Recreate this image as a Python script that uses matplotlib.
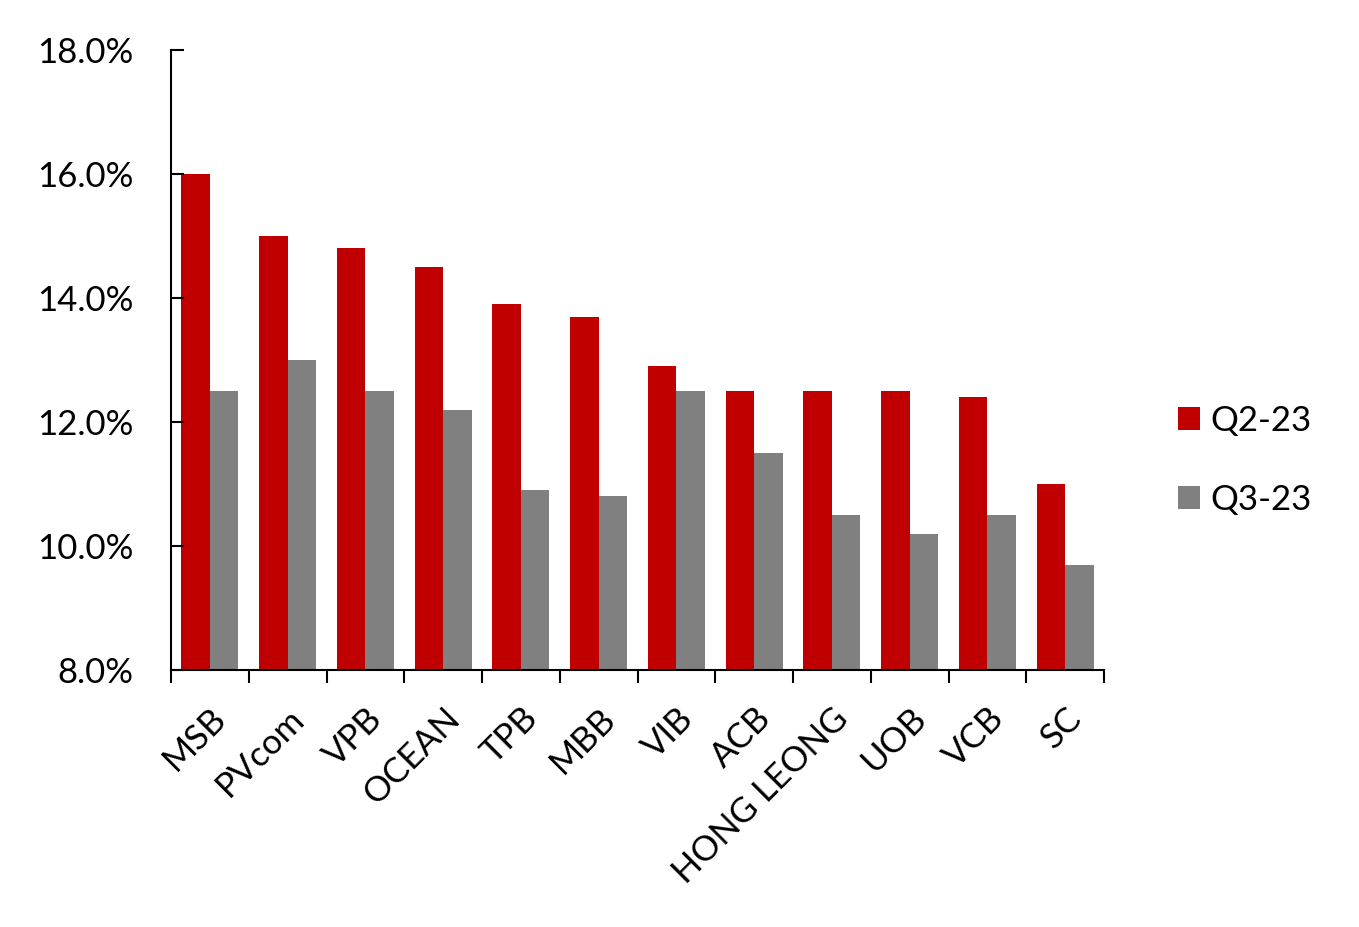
import matplotlib
matplotlib.use("Agg")
import matplotlib.pyplot as plt
import numpy as np
from matplotlib.ticker import FuncFormatter, MultipleLocator

plt.rcParams['font.family'] = ['Lato', 'DejaVu Sans']

# data (%)
banks = ["MSB", "PVcom", "VPB", "OCEAN", "TPB", "MBB", "VIB", "ACB",
         "HONG LEONG", "UOB", "VCB", "SC"]
q2_23 = [16.0, 15.0, 14.8, 14.5, 13.9, 13.7, 12.9, 12.5, 12.5, 12.5, 12.4, 11.0]
q3_23 = [12.5, 13.0, 12.5, 12.2, 10.9, 10.8, 12.5, 11.5, 10.5, 10.2, 10.5, 9.7]

RED = "#C00000"
GREY = "#808080"
FS = 25

fig = plt.figure(figsize=(13.59, 9.27), dpi=100)
ax = fig.add_axes([171 / 1359, 1 - 670 / 927, (1104 - 171) / 1359, (670 - 50) / 927])

x = np.arange(len(banks))
w = 0.365
ax.bar(x - w / 2, q2_23, width=w, color=RED, label="Q2-23", zorder=1)
ax.bar(x + w / 2, q3_23, width=w, color=GREY, label="Q3-23", zorder=1)

ax.set_ylim(8, 18)
ax.set_xlim(-0.5, len(banks) - 0.5)
ax.yaxis.set_major_locator(MultipleLocator(2))
ax.yaxis.set_major_formatter(FuncFormatter(lambda v, _: f"{v:.1f}%"))
ax.tick_params(axis="y", labelsize=FS, length=9, width=1.5, direction="in", pad=27)

# category ticks sit between groups, labels centred under groups
ax.set_xticks(np.arange(len(banks) + 1) - 0.5)
ax.set_xticklabels([])
ax.tick_params(axis="x", which="major", length=9, width=1.5, direction="out")
ax.set_xticks(x, minor=True)
ax.set_xticklabels(banks, minor=True, rotation=45, ha="right",
                   rotation_mode="anchor", fontsize=FS)
ax.tick_params(axis="x", which="minor", length=0, pad=23)

for s in ["top", "right"]:
    ax.spines[s].set_visible(False)
for s in ["left", "bottom"]:
    ax.spines[s].set_linewidth(1.5)

ax.legend(loc="center left", bbox_to_anchor=(1.079, 0.338), frameon=False,
          fontsize=FS, handlelength=0.65, handleheight=0.65, labelspacing=1.35,
          handletextpad=0.28, borderpad=0, borderaxespad=0)

fig.savefig("out.png", dpi=100)
